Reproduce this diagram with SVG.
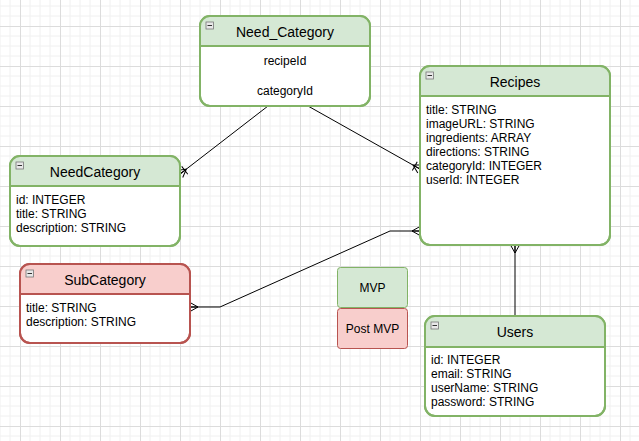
<svg xmlns="http://www.w3.org/2000/svg" width="639" height="441" viewBox="0 0 639 441">
<defs>
<pattern id="grid" patternUnits="userSpaceOnUse" x="20" y="26" width="40" height="40">
<path d="M10 0V40M20 0V40M30 0V40M0 10H40M0 20H40M0 30H40" stroke="#f0f0f0" stroke-width="1" fill="none"/>
<path d="M0.5 0V40M0 0.5H40" stroke="#dcdcdc" stroke-width="1" fill="none"/>
</pattern>
<marker id="many" markerUnits="userSpaceOnUse" viewBox="-12 -6 14 12" refX="0" refY="0" markerWidth="14" markerHeight="12" orient="auto" overflow="visible">
<path d="M0 -4.5L-8 0L0 4.5M-8 0H0" fill="none" stroke="#000" stroke-width="1"/>
</marker>
<marker id="onemany" markerUnits="userSpaceOnUse" viewBox="-12 -6 14 12" refX="0" refY="0" markerWidth="14" markerHeight="12" orient="auto" overflow="visible">
<path d="M0 -4.5L-8 0L0 4.5M-8 0H0M-6 -5V5" fill="none" stroke="#000" stroke-width="1"/>
</marker>
<style>
.box{fill:#fff;stroke-width:2}
.g{stroke:#82b366}
.r{stroke:#b85450}
.hg{fill:#d5e8d4}
.hr{fill:#f8cecc}
.ttl{font-family:"Liberation Sans",Arial,sans-serif;font-size:14px;fill:#000;text-anchor:middle}
.fld{font-family:"Liberation Sans",Arial,sans-serif;font-size:12px;fill:#000}
.ctr{text-anchor:middle}
.ic{fill:#e8e8e8;stroke:#777;stroke-width:0.8}
.icm{stroke:#333;stroke-width:1}
.edge{fill:none;stroke:#000;stroke-width:1}
</style>
</defs>
<rect width="639" height="441" fill="#fff"/>
<rect width="639" height="441" fill="url(#grid)"/>

<g id="connectors">
<path class="edge" d="M268 106L180 174" marker-end="url(#onemany)"/>
<path class="edge" d="M308 106L420 169" marker-end="url(#onemany)"/>
<path class="edge" d="M515 316V245" marker-end="url(#many)"/>
<path class="edge" d="M390 231H420" marker-end="url(#many)"/>
<path class="edge" d="M390 231L220 307H190" marker-end="url(#many)"/>
</g>

<g id="need_category_join">
<rect class="box g" x="200" y="16" width="170" height="90" rx="10"/>
<path class="hg" d="M200 46V26A10 10 0 0 1 210 16H360A10 10 0 0 1 370 26V46Z"/>
<line class="g" x1="200" y1="46" x2="370" y2="46" stroke-width="2"/>
<rect x="200" y="16" width="170" height="90" rx="10" fill="none" class="g" stroke-width="2"/>
<rect class="ic" x="206" y="22" width="7.5" height="7"/><line class="icm" x1="207.5" y1="25.5" x2="212" y2="25.5"/>
<text class="ttl" x="285" y="37">Need_Category</text>
<text class="fld ctr" x="285" y="65">recipeId</text>
<text class="fld ctr" x="285" y="95">categoryId</text>
</g>

<g id="recipes">
<rect class="box g" x="420" y="66" width="190" height="179" rx="10"/>
<path class="hg" d="M420 96V76A10 10 0 0 1 430 66H600A10 10 0 0 1 610 76V96Z"/>
<line class="g" x1="420" y1="96" x2="610" y2="96" stroke-width="2"/>
<rect x="420" y="66" width="190" height="179" rx="10" fill="none" class="g" stroke-width="2"/>
<rect class="ic" x="426" y="72" width="7.5" height="7"/><line class="icm" x1="427.5" y1="75.5" x2="432" y2="75.5"/>
<text class="ttl" x="515" y="87">Recipes</text>
<text class="fld" x="426" y="114">title: STRING</text>
<text class="fld" x="426" y="128">imageURL: STRING</text>
<text class="fld" x="426" y="142">ingredients: ARRAY</text>
<text class="fld" x="426" y="156">directions: STRING</text>
<text class="fld" x="426" y="170">categoryId: INTEGER</text>
<text class="fld" x="426" y="184">userId: INTEGER</text>
</g>

<g id="needcategory">
<rect class="box g" x="10" y="156" width="170" height="90" rx="10"/>
<path class="hg" d="M10 186V166A10 10 0 0 1 20 156H170A10 10 0 0 1 180 166V186Z"/>
<line class="g" x1="10" y1="186" x2="180" y2="186" stroke-width="2"/>
<rect x="10" y="156" width="170" height="90" rx="10" fill="none" class="g" stroke-width="2"/>
<rect class="ic" x="16" y="162" width="7.5" height="7"/><line class="icm" x1="17.5" y1="165.5" x2="22" y2="165.5"/>
<text class="ttl" x="95" y="177">NeedCategory</text>
<text class="fld" x="16" y="204">id: INTEGER</text>
<text class="fld" x="16" y="218">title: STRING</text>
<text class="fld" x="16" y="232">description: STRING</text>
</g>

<g id="subcategory">
<rect class="box r" x="20" y="264" width="170" height="79" rx="10"/>
<path class="hr" d="M20 294V274A10 10 0 0 1 30 264H180A10 10 0 0 1 190 274V294Z"/>
<line class="r" x1="20" y1="294" x2="190" y2="294" stroke-width="2"/>
<rect x="20" y="264" width="170" height="79" rx="10" fill="none" class="r" stroke-width="2"/>
<rect class="ic" x="26" y="270" width="7.5" height="7"/><line class="icm" x1="27.5" y1="273.5" x2="32" y2="273.5"/>
<text class="ttl" x="105" y="285">SubCategory</text>
<text class="fld" x="26" y="312">title: STRING</text>
<text class="fld" x="26" y="326">description: STRING</text>
</g>

<g id="users">
<rect class="box g" x="425" y="316" width="180" height="100" rx="10"/>
<path class="hg" d="M425 347V326A10 10 0 0 1 435 316H595A10 10 0 0 1 605 326V347Z"/>
<line class="g" x1="425" y1="347" x2="605" y2="347" stroke-width="2"/>
<rect x="425" y="316" width="180" height="100" rx="10" fill="none" class="g" stroke-width="2"/>
<rect class="ic" x="431" y="322" width="7.5" height="7"/><line class="icm" x1="432.5" y1="325.5" x2="437" y2="325.5"/>
<text class="ttl" x="515" y="337">Users</text>
<text class="fld" x="431" y="364">id: INTEGER</text>
<text class="fld" x="431" y="378">email: STRING</text>
<text class="fld" x="431" y="392">userName: STRING</text>
<text class="fld" x="431" y="406">password: STRING</text>
</g>

<g id="legend_mvp">
<rect x="337.5" y="267.5" width="70" height="40" rx="3" fill="#d5e8d4" stroke="#82b366"/>
<text class="fld ctr" x="372.5" y="291.5">MVP</text>
</g>
<g id="legend_post_mvp">
<rect x="337.5" y="308.5" width="70" height="40" rx="3" fill="#f8cecc" stroke="#b85450"/>
<text class="fld ctr" x="372.5" y="332.5">Post MVP</text>
</g>
</svg>
